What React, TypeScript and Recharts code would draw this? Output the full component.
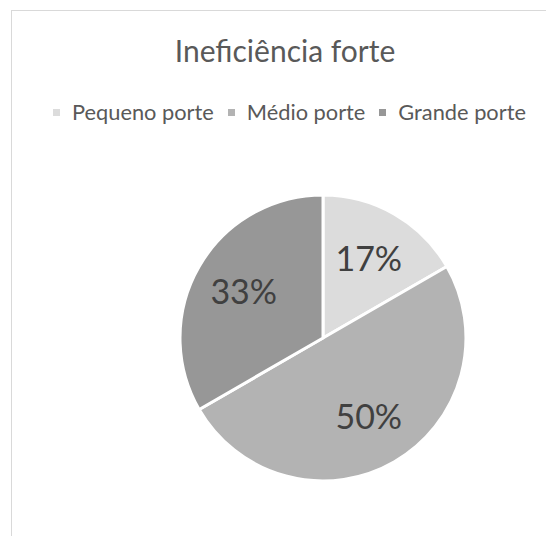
import React from 'react'
import { PieChart, Pie, Cell, Legend } from 'recharts'

const categories = ['Pequeno porte', 'Médio porte', 'Grande porte']
const values = [1, 3, 2]
const colors = ['#dcdcdc', '#b3b3b3', '#979797']
const chartTitle = 'Ineficiência forte'

const data = categories.map((name, i) => ({ name, value: values[i] }))

const FONT = 'Lato, "Open Sans", sans-serif'
const RAD = Math.PI / 180

function renderLabel(props: any) {
  const { cx, cy, midAngle, outerRadius, percent } = props
  const r = outerRadius * 0.64
  const x = cx + r * Math.cos(-midAngle * RAD)
  const y = cy + r * Math.sin(-midAngle * RAD)
  return (
    <text
      x={x}
      y={y + 12}
      textAnchor="middle"
      fill="#404040"
      fontSize={34}
      fontFamily={FONT}
    >
      {`${Math.round(percent * 100)}%`}
    </text>
  )
}

function renderLegend(props: any) {
  const items = [...(props.payload || [])].sort(
    (a: any, b: any) => categories.indexOf(a.value) - categories.indexOf(b.value)
  )
  return (
    <div style={{ display: 'flex', alignItems: 'center', whiteSpace: 'nowrap', fontFamily: FONT, fontSize: 21.8, lineHeight: '22px', color: '#595959' }}>
      {items.map((entry: any, i: number) => (
        <span key={i} style={{ display: 'inline-flex', alignItems: 'center', marginRight: 14 }}>
          <span style={{ display: 'inline-block', width: 7, height: 7, background: entry.color, marginRight: 12 }} />
          {entry.value}
        </span>
      ))}
    </div>
  )
}

export default function App() {
  return (
    <div style={{ position: 'fixed', left: 0, top: 0, width: 546, height: 536, overflow: 'hidden', background: '#fff' }}>
      <div style={{ position: 'absolute', left: 11, top: 10, width: 600, height: 600, border: '1px solid #d9d9d9' }} />
      <div
        style={{
          position: 'absolute', left: 0, top: 35, width: 570, textAlign: 'center',
          fontFamily: FONT, fontSize: 30, lineHeight: '30px', color: '#595959',
        }}
      >
        {chartTitle}
      </div>
      <PieChart width={546} height={536} margin={{ top: 0, right: 0, bottom: 0, left: 0 }}>
        <Legend content={renderLegend} wrapperStyle={{ left: 53, top: 101, width: 490 }} />
        <Pie
          data={data}
          dataKey="value"
          nameKey="name"
          cx={323}
          cy={338}
          outerRadius={143}
          startAngle={90}
          endAngle={-270}
          stroke="#ffffff"
          strokeWidth={3}
          label={renderLabel}
          labelLine={false}
          isAnimationActive={false}
        >
          {data.map((d, i) => (
            <Cell key={d.name} fill={colors[i]} />
          ))}
        </Pie>
      </PieChart>
    </div>
  )
}
